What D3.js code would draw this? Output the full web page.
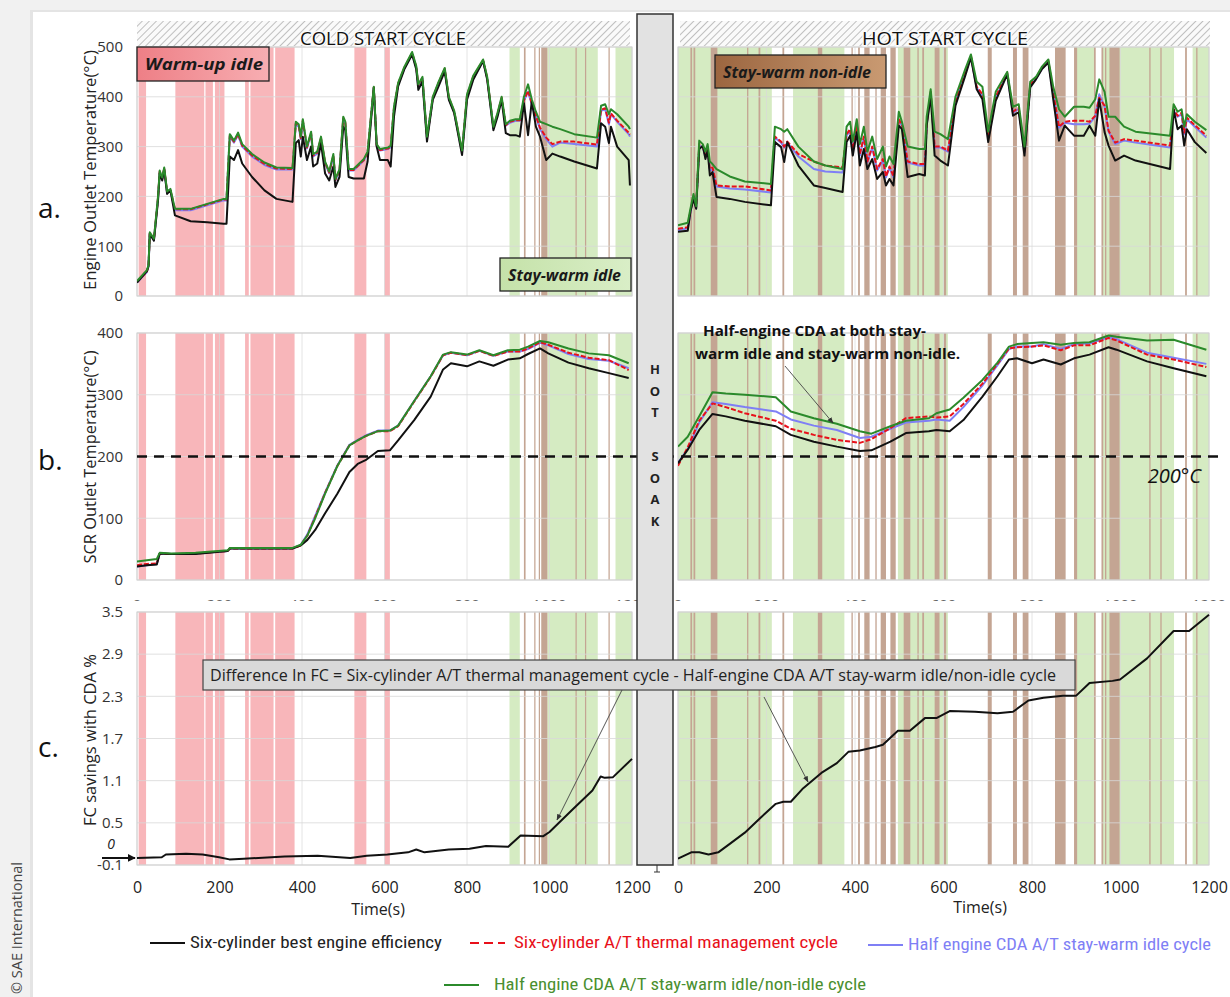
<!DOCTYPE html>
<html>
<head>
<meta charset="utf-8">
<script src="https://cdn.jsdelivr.net/npm/d3@7"></script>
<style>
  body { margin: 0; background: #eeeeee; }
  svg text { font-family: "Open Sans", "Liberation Sans", sans-serif; }
  .narrow { font-family: "Liberation Sans Narrow", "Roboto Condensed", "Open Sans", sans-serif; }
</style>
</head>
<body>
<svg id="chart" width="1230" height="997"></svg>
<script>
// ---- time-band shading (seconds) ----
const coldPink = [[4,22],[93,163],[166,184],[189,212],[262,271],[275,331],[335,382],[527,556],[600,613]];
const coldGreen = [[903,928],[995,1117],[1160,1200]];
const coldBrown = [[938,942],[963,966],[974,977],[980,995],[1063,1066],[1086,1089],[1143,1146]];
const hotGreen = [[0,212],[260,376],[497,610],[899,940],[960,1121],[1163,1200]];
const hotBrown = [[28,32],[35,39],[74,89],[156,159],[182,186],[236,240],[316,326],[392,395],[407,411],[421,433],[446,449],[458,470],[480,492],[510,525],[541,544],[552,556],[580,591],[601,606],[700,709],[757,766],[779,792],[852,876],[895,902],[940,944],[957,961],[965,968],[975,998],[1065,1068],[1090,1093],[1146,1150],[1171,1174]];

// ---- a. engine outlet temperature, cold start ----
const aColdT = [0,24,28,31,41,51,55,61,66,73,81,92,130,170,210,217,225,235,245,255,279,309,338,377,385,392,397,402,412,422,427,437,446,456,466,476,481,491,500,505,513,525,550,559,574,581,589,608,615,623,633,648,667,677,682,692,703,717,731,746,756,769,788,800,815,839,849,864,874,884,894,904,918,928,938,948,957,967,977,992,1007,1026,1060,1115,1125,1135,1144,1149,1164,1192,1195];
const aColdBlack = [27,50,60,125,111,192,246,232,253,205,212,162,150,148,145,145,280,273,293,266,239,212,195,189,307,313,280,320,273,300,260,266,307,246,232,260,219,239,340,333,239,236,236,270,418,300,273,273,260,360,421,455,485,455,414,431,310,394,421,451,394,367,283,394,434,472,434,333,360,394,327,323,323,320,387,323,391,340,320,273,286,280,270,256,347,340,307,340,300,273,222];
const aColdRed = [28,49,61,126,113,198,250,236,256,208,213,174,174,184,194,194,322,310,325,302,282,265,256,255,347,342,317,352,298,327,282,288,317,268,248,282,233,253,357,348,253,253,273,288,419,303,293,296,300,378,426,458,488,460,423,438,318,398,428,456,398,370,290,403,440,473,438,338,366,398,343,350,353,353,393,412,387,362,338,318,305,310,310,304,374,377,348,367,352,328,324];
const aColdBlue = [27,48,60,125,112,196,248,235,255,207,212,172,172,182,192,192,320,308,323,300,280,263,254,254,345,340,315,350,296,325,280,286,315,266,246,280,232,251,355,346,252,252,272,287,418,302,292,295,299,376,425,457,487,459,421,437,317,397,427,455,397,369,289,401,438,472,437,337,364,396,342,348,352,352,392,410,385,360,335,315,300,308,305,300,372,375,345,365,350,325,320];
const aColdGreen = [30,52,62,128,115,200,252,238,258,210,215,175,175,185,195,195,325,312,328,305,285,268,258,257,350,345,320,355,300,330,285,290,320,270,250,285,235,255,360,350,255,255,275,290,420,305,295,298,302,380,428,460,490,462,425,440,320,400,430,458,400,372,292,405,442,475,440,340,368,400,345,352,355,355,400,425,395,370,350,345,340,335,325,318,382,385,365,375,365,340,335];

// ---- a. engine outlet temperature, hot start ----
const aHotT = [0,22,28,35,41,48,56,62,67,72,78,87,117,151,210,219,233,240,247,272,307,333,372,381,389,395,404,411,420,428,439,450,463,470,478,487,499,506,519,545,558,562,571,580,593,610,627,649,662,675,688,701,718,744,757,770,783,796,809,822,837,848,861,874,895,917,930,943,952,964,973,988,1008,1034,1112,1120,1129,1138,1144,1150,1168,1194];
const aHotBlack = [129,131,169,195,175,295,302,275,292,242,249,199,195,189,182,309,299,269,309,262,222,217,209,309,322,282,329,262,295,255,275,235,249,222,235,222,342,335,239,245,242,342,402,282,272,262,382,442,479,415,395,309,392,445,362,369,282,419,435,455,469,395,312,342,322,322,342,322,395,329,302,272,282,272,255,375,335,342,302,335,309,287];
const aHotRed = [135,138,170,200,178,305,300,282,298,255,258,222,220,220,212,320,310,300,310,285,270,262,258,325,335,295,340,285,320,270,300,255,275,240,260,240,355,345,270,265,265,345,410,300,300,292,390,450,482,420,405,320,400,448,370,378,290,425,438,458,472,408,340,350,352,352,350,362,398,382,332,308,315,312,302,375,362,368,328,358,343,322];
const aHotBlue = [132,136,168,198,176,302,298,280,296,252,255,220,216,214,208,318,308,298,308,280,255,250,248,322,332,292,338,282,318,268,298,252,272,238,258,238,352,342,268,262,262,342,408,298,298,290,388,448,480,418,402,318,398,446,368,376,288,423,436,456,470,405,338,348,345,345,346,360,405,380,330,305,312,308,298,372,360,365,325,355,340,318];
const aHotGreen = [142,147,175,205,180,312,305,290,305,270,265,255,240,230,225,340,335,330,335,300,270,262,255,340,350,310,355,305,340,290,320,275,300,260,280,265,370,350,300,295,295,360,415,330,325,315,400,455,485,430,420,330,410,450,380,385,300,430,440,460,475,420,375,360,380,380,378,395,435,410,360,360,340,330,322,385,370,375,340,365,350,333];

// ---- b. SCR outlet temperature ----
const bColdT = [0,24,48,55,83,142,220,225,377,397,413,432,456,486,515,535,554,584,613,633,672,712,742,761,800,830,864,899,928,948,977,997,1046,1095,1144,1192];
const bColdBlack = [22,24,25,43,42,42,47,51,51,56,65,81,108,140,175,188,194,209,210,226,259,297,341,351,346,354,347,357,359,366,375,367,352,343,335,327];
const bColdRed = [24,26,27,43,42,43,47,51,51,56,72,102,141,185,218,226,233,241,241,249,289,329,364,368,364,371,363,370,370,375,385,381,368,360,356,340];
const bColdBlue = [22,24,26,43,42,43,47,51,51,57,74,104,142,186,219,227,234,242,242,250,290,330,364,368,364,371,363,370,370,374,384,380,366,358,355,343];
const bColdGreen = [30,32,34,44,43,44,48,52,52,57,72,100,140,185,218,226,233,241,242,250,290,330,365,369,365,372,364,372,373,378,387,385,375,367,364,351];

const bHotT = [0,22,48,78,108,151,221,255,307,359,411,437,480,515,567,584,614,645,688,722,748,766,800,826,865,895,930,973,991,1060,1120,1194];
const bHotBlack = [189,211,243,269,265,258,249,235,224,216,209,210,224,238,241,243,241,259,297,330,357,359,351,357,349,359,365,377,373,354,343,330];
const bHotRed = [185,215,258,286,280,270,258,245,235,227,222,228,246,262,265,263,265,285,318,350,375,377,378,380,372,380,380,392,388,365,357,345];
const bHotBlue = [190,212,255,288,285,280,273,260,250,243,230,232,245,255,258,260,258,280,315,348,374,378,378,382,374,382,383,393,390,368,360,350];
const bHotGreen = [216,232,265,304,302,300,296,273,262,253,241,237,249,258,262,270,276,295,324,352,378,382,384,385,381,384,385,396,394,388,389,373];

// ---- c. FC savings with CDA (%) ----
const cColdT = [0,60,70,119,159,199,224,259,358,438,517,557,607,657,677,697,756,806,846,900,930,985,1000,1054,1104,1124,1134,1154,1200];
const cColdV = [0,0.01,0.05,0.06,0.05,0.01,-0.02,-0.01,0.02,0.03,0,0.03,0.05,0.08,0.12,0.08,0.12,0.13,0.17,0.16,0.32,0.31,0.37,0.68,0.96,1.16,1.14,1.15,1.41];
const cHotT = [0,30,48,69,91,117,151,186,221,238,255,281,324,359,385,411,446,463,497,524,558,584,614,671,722,757,792,826,870,900,930,982,999,1060,1120,1155,1200];
const cHotV = [-0.01,0.08,0.08,0.05,0.08,0.2,0.36,0.57,0.77,0.8,0.8,0.98,1.21,1.35,1.51,1.53,1.58,1.61,1.81,1.81,1.99,1.99,2.09,2.08,2.06,2.08,2.24,2.28,2.31,2.31,2.49,2.52,2.54,2.84,3.23,3.23,3.46];

// ---- ticks / labels ----
const timeTicks = [0,200,400,600,800,1000,1200];
const aTicks = [0,100,200,300,400,500];
const bTicks = [0,100,200,300,400];
const cTicks = [-0.1,0.5,1.1,1.7,2.3,2.9,3.5];
const hotSoak = ["H","O","T","","S","O","A","K"];
const seriesNames = ["Six-cylinder best engine efficiency","Six-cylinder A/T  thermal management cycle","Half engine CDA A/T stay-warm idle cycle","Half engine CDA A/T stay-warm idle/non-idle cycle"];

const C = { black: "#111111", red: "#e8101a", blue: "#7f7ff5", green: "#2b8a2b",
            pink: "#f8b6ba", band: "#d5ebc2", brown: "#c4a593", grid: "#d8d8d8" };

const svg = d3.select("#chart");
const defs = svg.append("defs");

// background sheet
svg.append("rect").attr("x", 0).attr("y", 0).attr("width", 1230).attr("height", 997).attr("fill", "#f1f1f1");
svg.append("rect").attr("x", 30).attr("y", 10).attr("width", 1200).attr("height", 990).attr("fill", "#e4e4e4");
svg.append("rect").attr("x", 33).attr("y", 12).attr("width", 1197).attr("height", 990).attr("fill", "#ffffff");

// hatch pattern
const hatch = defs.append("pattern").attr("id", "hatch").attr("patternUnits", "userSpaceOnUse")
  .attr("width", 5).attr("height", 5).attr("patternTransform", "rotate(45)");
hatch.append("rect").attr("width", 5).attr("height", 5).attr("fill", "#fafafa");
hatch.append("line").attr("x1", 0).attr("y1", 0).attr("x2", 0).attr("y2", 5).attr("stroke", "#b0b0b0").attr("stroke-width", 1.6);

const xCold = d3.scaleLinear().domain([0, 1200]).range([137, 632]);
const xHot = d3.scaleLinear().domain([0, 1200]).range([678, 1209]);
const yA = d3.scaleLinear().domain([0, 500]).range([296, 47]);
const yB = d3.scaleLinear().domain([0, 400]).range([580, 333]);
const yC = d3.scaleLinear().domain([-0.1, 3.5]).range([865, 612]);

let clipId = 0;
function panel(x, y, ticks, bands, series) {
  const [x0, x1] = x.range(), [y0, y1] = [y.range()[1], y.range()[0]];
  const g = svg.append("g");
  // bands
  bands.forEach(b => {
    g.selectAll(null).data(b.data).join("rect")
      .attr("x", d => x(d[0])).attr("width", d => Math.max(1.2, x(d[1]) - x(d[0])))
      .attr("y", y0).attr("height", y1 - y0).attr("fill", b.color);
  });
  // grid
  g.selectAll(null).data(ticks).join("line")
    .attr("x1", x0).attr("x2", x1).attr("y1", d => y(d)).attr("y2", d => y(d))
    .attr("stroke", C.grid).attr("stroke-opacity", 0.8).attr("stroke-width", 1);
  g.selectAll(null).data(timeTicks).join("line")
    .attr("x1", d => x(d)).attr("x2", d => x(d)).attr("y1", y0).attr("y2", y1)
    .attr("stroke", C.grid).attr("stroke-opacity", 0.7).attr("stroke-width", 1);
  g.append("rect").attr("x", x0).attr("y", y0).attr("width", x1 - x0).attr("height", y1 - y0)
    .attr("fill", "none").attr("stroke", "#d0d0d0");
  // lines
  const id = "clip" + (clipId++);
  defs.append("clipPath").attr("id", id).append("rect")
    .attr("x", x0).attr("y", y0 - 4).attr("width", x1 - x0 + 2).attr("height", y1 - y0 + 8);
  const lg = g.append("g").attr("clip-path", `url(#${id})`);
  series.forEach(s => {
    const line = d3.line().x((d, i) => x(s.t[i])).y(d => y(d));
    lg.append("path").datum(s.v).attr("d", line).attr("fill", "none")
      .attr("stroke", s.color).attr("stroke-width", s.w || 2)
      .attr("stroke-dasharray", s.dash || null).attr("stroke-linejoin", "round");
  });
  return g;
}

const coldBands = [{ data: coldPink, color: C.pink }, { data: coldGreen, color: C.band }, { data: coldBrown, color: C.brown }];
const hotBands = [{ data: hotGreen, color: C.band }, { data: hotBrown, color: C.brown }];

function four(t, bl, re, bu, gr) {
  return [
    { t, v: bu, color: C.blue },
    { t, v: re, color: C.red, dash: "5,2" },
    { t, v: bl, color: C.black },
    { t, v: gr, color: C.green }
  ];
}

panel(xCold, yA, aTicks, coldBands, four(aColdT, aColdBlack, aColdRed, aColdBlue, aColdGreen));
panel(xHot, yA, aTicks, hotBands, four(aHotT, aHotBlack, aHotRed, aHotBlue, aHotGreen));
panel(xCold, yB, bTicks, coldBands, four(bColdT, bColdBlack, bColdRed, bColdBlue, bColdGreen));
panel(xHot, yB, bTicks, hotBands, four(bHotT, bHotBlack, bHotRed, bHotBlue, bHotGreen));
panel(xCold, yC, cTicks, coldBands, [{ t: cColdT, v: cColdV, color: C.black, w: 2 }]);
panel(xHot, yC, cTicks, hotBands, [{ t: cHotT, v: cHotV, color: C.black, w: 2 }]);

// y axes (left only)
function yAxis(y, ticks, fmt) {
  const ax = svg.append("g").attr("transform", "translate(137,0)")
    .call(d3.axisLeft(y).tickValues(ticks).tickSize(0).tickPadding(14).tickFormat(fmt));
  ax.select(".domain").remove();
  ax.selectAll("text").attr("font-size", 15).attr("fill", "#333")
    .style("font-family", '"Open Sans", sans-serif');
}
yAxis(yA, aTicks, d3.format("d"));
yAxis(yB, bTicks, d3.format("d"));
yAxis(yC, cTicks, d => d3.format(".1f")(d).replace("\u2212", "-"));

// x axes (bottom of panel c)
[xCold, xHot].forEach(x => {
  const ax = svg.append("g").attr("transform", "translate(0,878)")
    .call(d3.axisBottom(x).tickValues(timeTicks).tickSize(0).tickPadding(4).tickFormat(d3.format("d")));
  ax.select(".domain").remove();
  ax.selectAll("text").attr("font-size", 16).attr("fill", "#222")
    .style("font-family", '"Open Sans", sans-serif');
});
// clipped remains of panel b's time labels
defs.append("clipPath").attr("id", "clipB").append("rect").attr("x", 100).attr("y", 590).attr("width", 1130).attr("height", 11);
[xCold, xHot].forEach(x => {
  svg.append("g").attr("clip-path", "url(#clipB)")
    .selectAll("text").data(timeTicks).join("text")
    .attr("x", d => x(d)).attr("y", 610).attr("text-anchor", "middle")
    .attr("font-size", 15).attr("fill", "#666").text(d => d);
});

svg.append("text").attr("x", 378).attr("y", 915).attr("text-anchor", "middle")
  .attr("font-size", 16).attr("fill", "#222").text("Time(s)");
svg.append("text").attr("x", 980).attr("y", 913).attr("text-anchor", "middle")
  .attr("font-size", 16).attr("fill", "#222").text("Time(s)");

// y titles
function yTitle(txt, cy, len) {
  svg.append("text").attr("transform", `translate(96,${cy}) rotate(-90)`)
    .attr("text-anchor", "middle").attr("font-size", 16).attr("fill", "#222")
    .attr("textLength", len).attr("lengthAdjust", "spacingAndGlyphs").text(txt);
}
yTitle("Engine Outlet Temperature(°C)", 170, 240);
yTitle("SCR Outlet Temperature(°C)", 457, 213);
yTitle("FC savings with CDA  %", 740, 172);

// panel letters
[["a.", 218], ["b.", 470], ["c.", 757]].forEach(([t, y]) => {
  svg.append("text").attr("x", 38).attr("y", y).attr("font-size", 28).attr("fill", "#111").text(t);
});

// header bands
[[137, 630, "COLD START CYCLE", 383], [680, 1210, "HOT START CYCLE", 945]].forEach(([a, b, t, cx]) => {
  svg.append("rect").attr("x", a).attr("y", 21).attr("width", b - a).attr("height", 25).attr("fill", "url(#hatch)");
  svg.append("text").attr("x", cx).attr("y", 45).attr("text-anchor", "middle").attr("font-size", 18)
    .attr("fill", "#111").attr("textLength", 166).attr("lengthAdjust", "spacingAndGlyphs")
    .style("paint-order", "stroke").attr("stroke", "#fafafa").attr("stroke-width", 3).text(t);
});

// 200°C threshold
svg.append("line").attr("x1", 137).attr("x2", 1224).attr("y1", yB(200)).attr("y2", yB(200))
  .attr("stroke", "#111").attr("stroke-width", 2.6).attr("stroke-dasharray", "10,7");
svg.append("text").attr("x", 1201).attr("y", 483).attr("text-anchor", "end").attr("font-size", 20)
  .attr("font-style", "italic").attr("fill", "#111").text("200°C");

// hot soak bar
svg.append("rect").attr("x", 637).attr("y", 14).attr("width", 36).attr("height", 851)
  .attr("fill", "#e2e2e2").attr("stroke", "#333").attr("stroke-width", 1.5);
svg.append("line").attr("x1", 657).attr("x2", 657).attr("y1", 865).attr("y2", 872).attr("stroke", "#333");
svg.append("line").attr("x1", 654).attr("x2", 660).attr("y1", 872).attr("y2", 872).attr("stroke", "#333");
svg.selectAll(null).data(hotSoak).join("text")
  .attr("x", 655).attr("y", (d, i) => 374 + i * 21.5 + (i >= 4 ? 1 : 0))
  .attr("text-anchor", "middle").attr("font-size", 13).attr("font-weight", "bold").attr("fill", "#222").text(d => d);

// mode boxes
const grads = [["gPink", "#ee7f86", "#f7aeb2"], ["gGreen", "#c5e2a9", "#d9eec7"], ["gBrown", "#9c6640", "#c99a72"]];
grads.forEach(([id, a, b]) => {
  const lg = defs.append("linearGradient").attr("id", id);
  lg.append("stop").attr("offset", "0%").attr("stop-color", a);
  lg.append("stop").attr("offset", "100%").attr("stop-color", b);
});
[[137, 47, 132, 34, "gPink", "Warm-up idle", 118], [500, 258, 131, 33, "gGreen", "Stay-warm idle", 113], [715, 55, 171, 33, "gBrown", "Stay-warm non-idle", 148]]
  .forEach(([x, y, w, h, f, t, len]) => {
    svg.append("rect").attr("x", x).attr("y", y).attr("width", w).attr("height", h)
      .attr("fill", `url(#${f})`).attr("stroke", "#222").attr("stroke-width", 1.3);
    svg.append("text").attr("x", x + 8).attr("y", y + h / 2 + 6).attr("font-size", 16)
      .attr("font-weight", "bold").attr("font-style", "italic").attr("fill", "#1a1a1a")
      .attr("textLength", len).attr("lengthAdjust", "spacingAndGlyphs").text(t);
  });

// arrow marker
const mk = defs.append("marker").attr("id", "arr").attr("viewBox", "0 0 10 10").attr("refX", 9).attr("refY", 5)
  .attr("markerWidth", 7).attr("markerHeight", 7).attr("orient", "auto");
mk.append("path").attr("d", "M0,1L10,5L0,9z").attr("fill", "#333");
const mk2 = defs.append("marker").attr("id", "arrBig").attr("viewBox", "0 0 10 10").attr("refX", 9).attr("refY", 5)
  .attr("markerWidth", 4).attr("markerHeight", 4).attr("orient", "auto");
mk2.append("path").attr("d", "M0,0L10,5L0,10z").attr("fill", "#111");

// half-engine note
svg.append("text").attr("x", 703).attr("y", 336).attr("font-size", 15).attr("font-weight", "bold")
  .attr("fill", "#111").attr("textLength", 223).attr("lengthAdjust", "spacingAndGlyphs").text("Half-engine CDA at both stay-");
svg.append("text").attr("x", 695).attr("y", 359).attr("font-size", 15).attr("font-weight", "bold")
  .attr("fill", "#111").attr("textLength", 265).attr("lengthAdjust", "spacingAndGlyphs").text("warm idle and stay-warm non-idle.");
svg.append("line").attr("x1", 785).attr("y1", 366).attr("x2", 833).attr("y2", 423)
  .attr("stroke", "#444").attr("stroke-width", 0.9).attr("marker-end", "url(#arr)");

// difference box
svg.append("rect").attr("x", 203).attr("y", 660).attr("width", 872).attr("height", 30)
  .attr("fill", "#d9d9d9").attr("stroke", "#444").attr("stroke-width", 1.2);
svg.append("text").attr("x", 210).attr("y", 681).attr("font-size", 16).attr("fill", "#222")
  .attr("textLength", 846).attr("lengthAdjust", "spacingAndGlyphs")
  .text("Difference In FC = Six-cylinder A/T thermal management cycle -  Half-engine CDA A/T stay-warm idle/non-idle cycle");
svg.append("line").attr("x1", 622).attr("y1", 690).attr("x2", 557).attr("y2", 820)
  .attr("stroke", "#444").attr("stroke-width", 0.9).attr("marker-end", "url(#arr)");
svg.append("line").attr("x1", 764).attr("y1", 697).attr("x2", 808).attr("y2", 782)
  .attr("stroke", "#444").attr("stroke-width", 0.9).attr("marker-end", "url(#arr)");

// zero marker on panel c
svg.append("text").attr("x", 111).attr("y", 849).attr("text-anchor", "middle").attr("font-size", 14)
  .attr("font-style", "italic").attr("fill", "#222").text("0");
svg.append("line").attr("x1", 102).attr("x2", 135).attr("y1", yC(0)).attr("y2", yC(0))
  .attr("stroke", "#111").attr("stroke-width", 2).attr("marker-end", "url(#arrBig)");

// legend
const legend = [
  { x: 150, y: 943, color: C.black, tc: "#222", len: 252 },
  { x: 470, y: 943, color: C.red, tc: "#e8101a", len: 324, dash: "9,5" },
  { x: 868, y: 945, color: C.blue, tc: "#7f7ff5", len: 303 },
  { x: 444, y: 985, color: C.green, tc: "#4a8f2f", len: 372 }
];
legend.forEach((d, i) => {
  svg.append("line").attr("x1", d.x).attr("x2", d.x + 35).attr("y1", d.y).attr("y2", d.y)
    .attr("stroke", d.color).attr("stroke-width", 2).attr("stroke-dasharray", d.dash || null);
  svg.append("text").attr("class", "narrow").attr("x", d.x + (i === 3 ? 50 : i === 1 ? 44 : 40)).attr("y", d.y + 5)
    .attr("font-size", 16).attr("fill", d.tc).attr("textLength", d.len).attr("lengthAdjust", "spacingAndGlyphs")
    .text(seriesNames[i]);
});

// copyright
svg.append("text").attr("transform", "translate(22,994) rotate(-90)").attr("font-size", 14)
  .attr("fill", "#444").attr("textLength", 132).attr("lengthAdjust", "spacingAndGlyphs").text("© SAE International");
</script>
</body>
</html>
